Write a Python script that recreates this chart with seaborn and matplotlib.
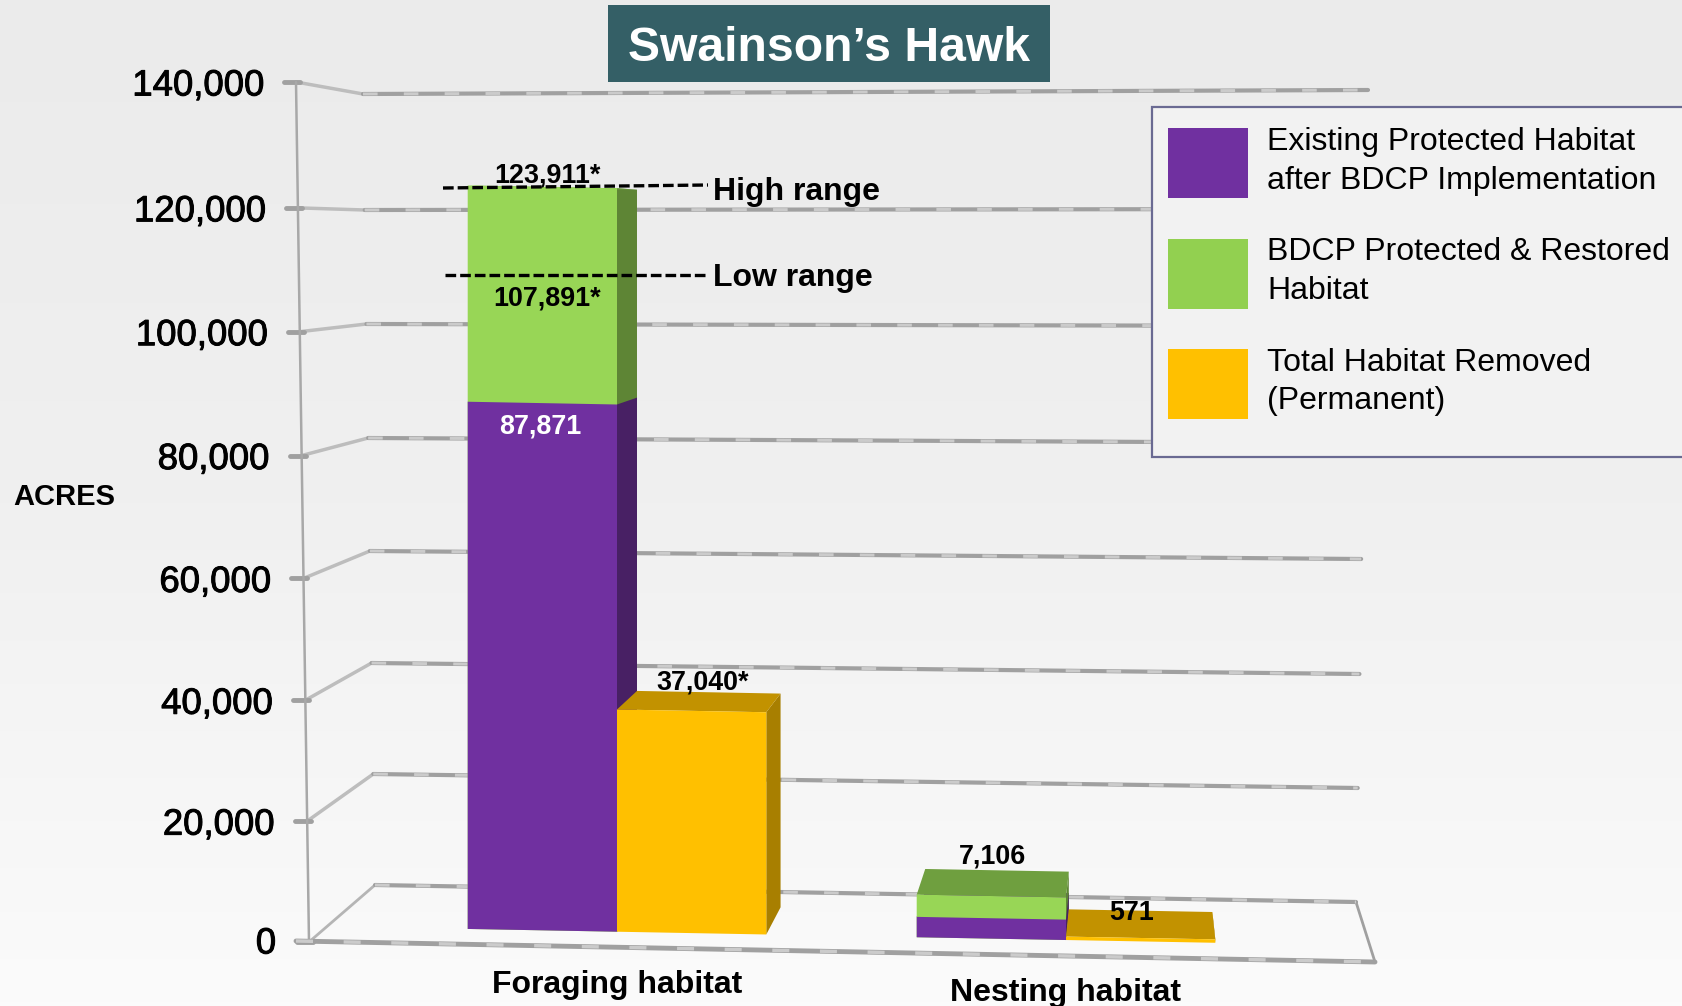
# Swainson's Hawk habitat chart, fake-3D bars on top of seaborn bars
import numpy as np
import pandas as pd
import seaborn as sns
import matplotlib.pyplot as plt
import matplotlib.patheffects as pe
from matplotlib.patches import Polygon, Rectangle, Patch
from matplotlib.transforms import Affine2D, IdentityTransform

categories = ["Foraging habitat", "Nesting habitat"]
existing = [87871, 3400]
total_protected = [123911, 7106]
removed = [37040, 571]
y_ticks = [0, 20000, 40000, 60000, 80000, 100000, 120000, 140000]
wall_bend = [0, 2, 4, 5, 5, 4, 3, 0]  # the wall lines are not quite evenly spaced
legend_labels = [
    "Existing Protected Habitat\nafter BDCP Implementation",
    "BDCP Protected & Restored\nHabitat",
    "Total Habitat Removed\n(Permanent)",
]

W, H = 1682, 1006
PURPLE, GREEN, ORANGE = "#7030a0", "#98d656", "#ffc000"
SIDE = {PURPLE: "#482064", GREEN: "#5e8535", ORANGE: "#a87f00"}
TOP = {PURPLE: "#5a2780", GREEN: "#6f9f3f", ORANGE: "#c29200"}

sns.set_theme(style="white")
plt.rcParams["font.family"] = ["Liberation Sans", "DejaVu Sans"]

fig = plt.figure(figsize=(W / 100, H / 100), dpi=100)

# background layer, in picture pixels
bg = fig.add_axes([0, 0, 1, 1], zorder=0)
bg.imshow(np.linspace(0, 1, 256).reshape(-1, 1), cmap=plt.cm.colors.LinearSegmentedColormap.from_list("bg", ["#ebebeb", "#f0f0f0", "#fbfbfb"]),
          aspect="auto", extent=[0, W, H, 0], vmin=0, vmax=1)
bg.set_xlim(0, W)
bg.set_ylim(H, 0)
bg.axis("off")


def grid_line(xs, ys, lw=3.0):
    bg.plot(xs, ys, color="#a0a0a0", lw=lw, solid_capstyle="round", zorder=2)
    bg.plot(xs, ys, color="#cbcbcb", lw=lw * 0.7, ls=(0, (5, 9)), zorder=2.1)


# wall grid, three y scales for the perspective
for v, bend in zip(y_ticks, wall_bend):
    f = v / 140000
    tick_x, tick_y = 309 - 13 * f, 942 - 860 * f + bend
    back_x, back_y = 375 - 12 * f, 885 - 791 * f + bend
    right_x, right_y = 1356 + 12 * f, 902 - 812 * f + bend
    if v > 0:
        bg.plot([tick_x, back_x], [tick_y, back_y], color="#bdbdbd", lw=2.5, zorder=2)
        grid_line([back_x, right_x], [back_y, right_y])
    bg.plot([tick_x - 12, tick_x + 4], [tick_y, tick_y], color="#a0a0a0", lw=3.5, zorder=2)

# left axis and floor
bg.plot([296, 309], [82, 942], color="#a8a8a8", lw=1.8, zorder=2)
bg.plot([309, 375], [942, 885], color="#b5b5b5", lw=2, zorder=2)
grid_line([375, 1356], [885, 902])
bg.plot([1356, 1375], [902, 962], color="#a0a0a0", lw=2, zorder=2)
grid_line([296, 1375], [941, 962], lw=3.5)

# title box
bg.add_patch(Rectangle((608, 5), 442, 77, facecolor="#345f66", edgecolor="none", zorder=3))
bg.text(829, 48, "Swainson\u2019s Hawk", color="white", fontsize=34.7, fontweight="bold",
        ha="center", va="center", zorder=4)

# legend box, the legend itself goes on the bar axes further down
bg.add_patch(Rectangle((1152, 107), 560, 350, facecolor="#f2f2f2", edgecolor="#6a6a92", linewidth=1.6, zorder=5))

# tick labels only, on their own y scale
wall = fig.add_axes([296 / W, 1 - 942 / H, 10 / W, 860 / H], zorder=1)
wall.patch.set_visible(False)
wall.set_ylim(0, 140000)
wall.set_xticks([])
wall.set_yticks(y_ticks)
wall.set_yticklabels([f"{v:,}" for v in y_ticks])
wall.tick_params(axis="y", length=0, pad=23, labelsize=26.3, labelcolor="black")
sns.despine(ax=wall, left=True, bottom=True)
for tick, v, bend in zip(wall.yaxis.get_major_ticks(), y_ticks, wall_bend):
    lab = tick.label1
    dy = 2 if v == 0 else -bend
    lab.set_transform(lab.get_transform() + Affine2D().translate(12 * (1 - v / 140000), dy))
    lab.set_path_effects([pe.withStroke(linewidth=0.7, foreground="black")])

# bars, y=0 sits at pixel row 929 and one acre is 0.006 px
ax = fig.add_axes([0, 1 - 929 / H, 1, 929 / H], zorder=2)
ax.patch.set_visible(False)

bars = pd.DataFrame({
    "habitat": categories * 2,
    "acres": total_protected + removed,
    "group": ["stack"] * 2 + ["removed"] * 2,
})
base = pd.DataFrame({
    "habitat": categories * 2,
    "acres": existing + [0, 0],
    "group": ["stack"] * 2 + ["removed"] * 2,
})
sns.barplot(data=bars, x="habitat", y="acres", hue="group", hue_order=["stack", "removed"], order=categories,
            palette={"stack": GREEN, "removed": ORANGE}, width=0.665, gap=0, saturation=1, legend=False,
            linewidth=0, ax=ax)
sns.barplot(data=base, x="habitat", y="acres", hue="group", hue_order=["stack", "removed"], order=categories,
            palette={"stack": PURPLE, "removed": ORANGE}, width=0.665, gap=0, saturation=1, legend=False,
            linewidth=0, ax=ax)
ax.set_xlim(-617 / 449, (W - 617) / 449)
ax.set_ylim(0, 929 / 0.006)
ax.set_yticks([])
ax.set_xlabel("")
ax.set_ylabel("")
sns.despine(ax=ax, left=True, bottom=True)

# the floor of the picture falls to the right
shear = Affine2D.from_values(1, -0.0185, 0, 1, 0, 0.0185 * 470)
vanish = np.array([1139.0, H - 225.0])
depth = 0.0383


def to_back(p):
    return p + depth * (vanish - p)


for rect in list(ax.patches):
    colour = plt.cm.colors.to_hex(rect.get_facecolor())
    x0, x1 = rect.get_x(), rect.get_x() + rect.get_width()
    top = rect.get_height()
    if top == 0 or np.isnan(top):
        continue
    rect.set_transform(ax.transData + shear)
    rect.set_clip_on(False)
    rect.set_zorder(3)
    pts = (ax.transData + shear).transform([(x0, 0), (x1, 0), (x1, top), (x0, top)])
    fl, fr, tr, tl = pts
    ax.add_patch(Polygon([fr, tr, to_back(tr), to_back(fr)], closed=True, facecolor=SIDE[colour], edgecolor="none",
                         transform=IdentityTransform(), clip_on=False, zorder=2.5))
    ax.add_patch(Polygon([tl, tr, to_back(tr), to_back(tl)], closed=True, facecolor=TOP[colour], edgecolor="none",
                         transform=IdentityTransform(), clip_on=False, zorder=2.6 if colour != PURPLE else 2.4))

# category labels, the second one sits lower
ax.set_xticks(range(len(categories)))
ax.set_xticklabels(categories)
ax.tick_params(axis="x", length=0, pad=29, labelsize=23)
for tick, dy in zip(ax.xaxis.get_major_ticks(), [-1, -9]):
    lab = tick.label1
    lab.set_fontweight("bold")
    lab.set_color("black")
    lab.set_transform(lab.get_transform() + Affine2D().translate(0, dy))

# range markers and value labels, placed in picture pixels
for xs, ys in [([443, 708], [188, 185]), ([445, 708], [275, 275])]:
    ax.plot(xs, ys, color="black", lw=2.4, ls=(0, (3.2, 1.2)), transform=bg.transData, clip_on=False, zorder=5)

notes = [
    ("123,911*", 547, 175, "black", 19.4), ("107,891*", 547, 299, "black", 19.4),
    ("87,871", 540, 426, "white", 19.4), ("37,040*", 703, 682, "black", 19.4),
    ("7,106", 993, 856, "black", 19.4), ("571", 1132, 913, "black", 19.4),
    ("High range", 797, 192, "black", 23), ("Low range", 793, 278, "black", 23),
]
for text, x, y, colour, size in notes:
    ax.text(x, y, text, color=colour, fontsize=size, fontweight="bold", ha="center", va="center",
            transform=bg.transData, clip_on=False, zorder=6)
ax.text(13, 497, "ACRES", color="black", fontsize=21, fontweight="bold", ha="left", va="center",
        transform=bg.transData, zorder=6)

# legend
handles = [Patch(facecolor=c, edgecolor="none") for c in [PURPLE, "#92d050", ORANGE]]
fs = 23
fs_px = fs * 100 / 72
leg = ax.legend(handles, legend_labels, loc="upper left", bbox_to_anchor=(1168 / W, 1 - 127 / H),
                bbox_transform=fig.transFigure, borderaxespad=0, fontsize=fs, frameon=False,
                handlelength=80 / fs_px, handleheight=3.0, handletextpad=19 / fs_px,
                labelspacing=1.22, borderpad=0)
leg.set_zorder(10)
for t in leg.get_texts():
    t.set_linespacing(1.37)
    t.set_color("black")

fig.savefig("out.png", dpi=100)
